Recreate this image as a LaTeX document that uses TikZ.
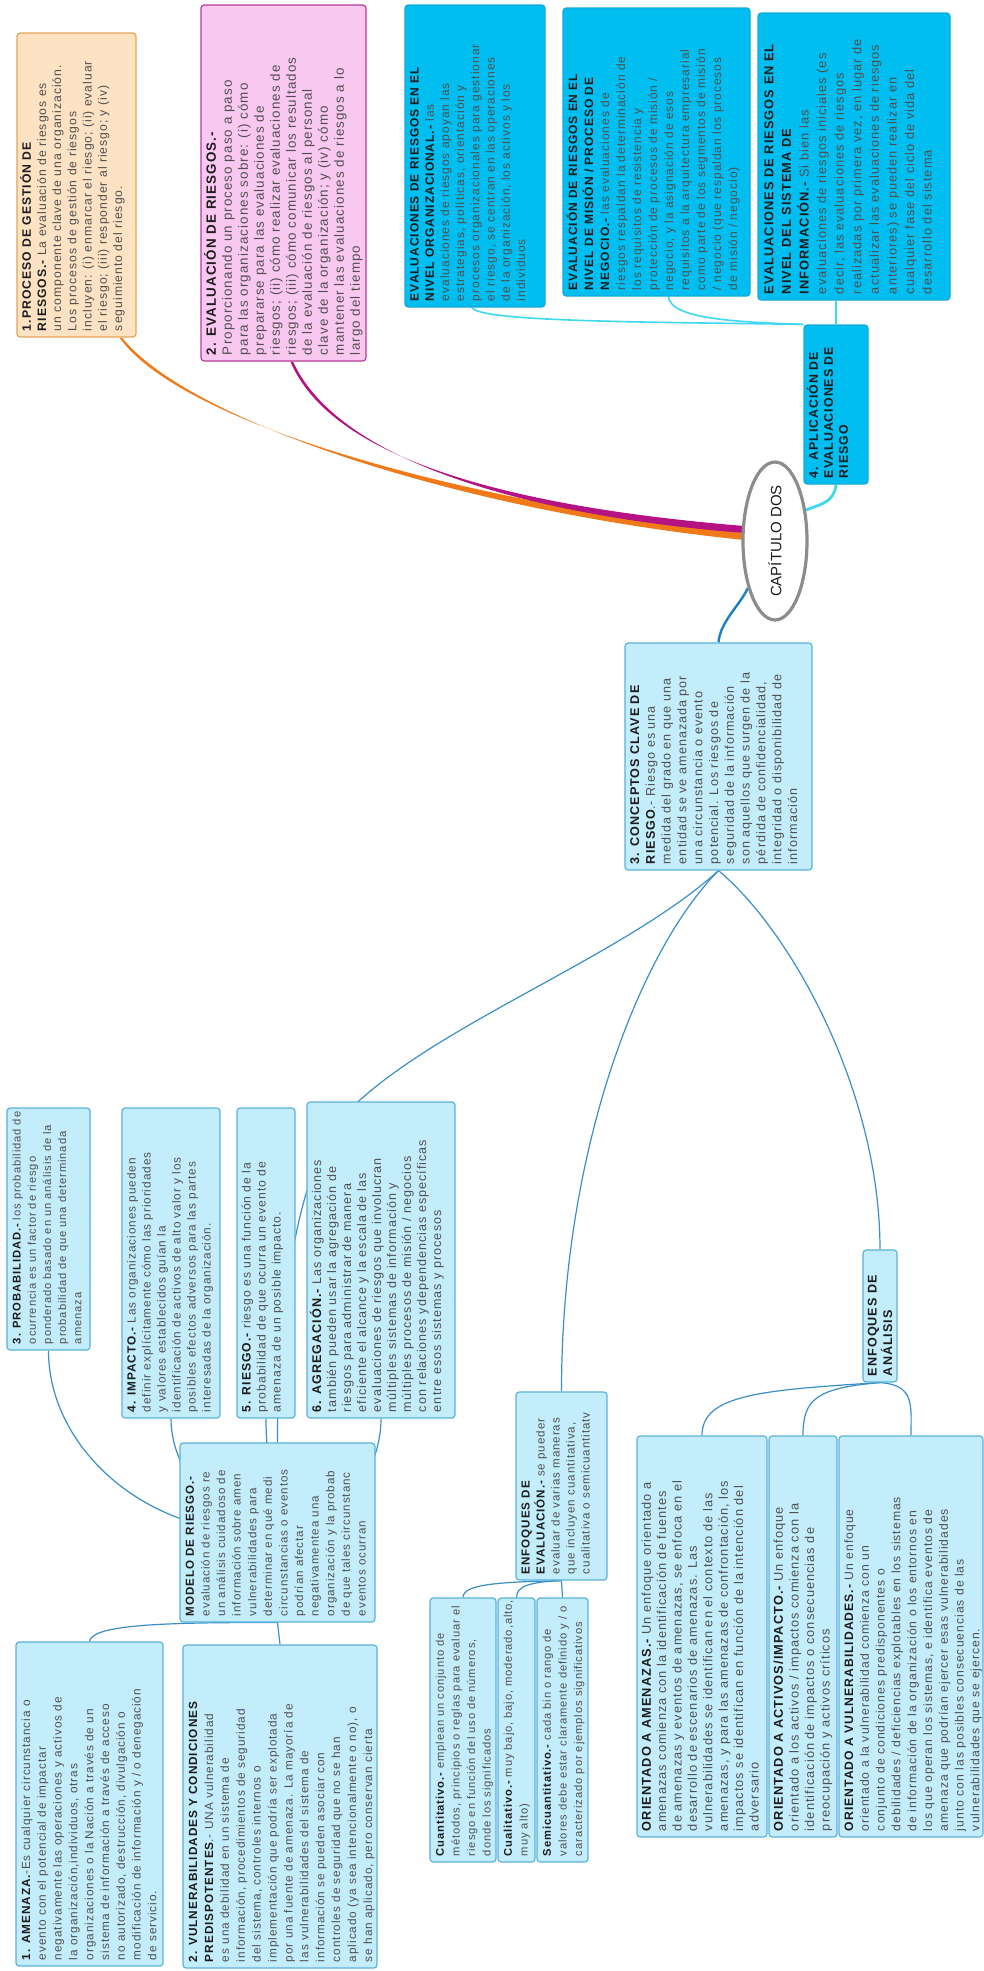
\documentclass[tikz,border=0pt]{standalone}
\usepackage{fontspec}
\setmainfont{Liberation Sans}[LetterSpace=8]
\usepackage{graphicx}
\usetikzlibrary{shapes.geometric,calc}

\definecolor{lbf}{HTML}{C4EDFB}
\definecolor{lbd}{HTML}{5BB2DB}
\definecolor{cyf}{HTML}{00BEF0}
\definecolor{cyd}{HTML}{14A9D8}
\definecolor{pkf}{HTML}{F9C8F1}
\definecolor{pkd}{HTML}{B63C99}
\definecolor{orf}{HTML}{FDE3C3}
\definecolor{ord}{HTML}{E3A55A}
\definecolor{txt}{HTML}{4F4F4F}
\definecolor{ttl}{HTML}{1C1C1C}
\definecolor{lnk}{HTML}{3A8FC7}
\definecolor{orb}{HTML}{F07A1A}
\definecolor{mgb}{HTML}{B51283}
\definecolor{cyl}{HTML}{3ED9EE}
\definecolor{blu}{HTML}{1A80C4}
\definecolor{capg}{HTML}{8C8C8C}

\pgfdeclarelayer{back}
\pgfsetlayers{back,main}

% rotated text block: #1 length (px), #2 thickness (px), #3 font size, #4 line pitch, #5 lines
\newcommand{\mmtext}[5]{\parbox[c][\dimexpr #2pt/2\relax][t]{\dimexpr #1pt/2\relax}{%
  \vspace*{1.5pt}\hspace*{3pt}\fontsize{#3pt}{#4pt}\selectfont\color{txt}%
  \begin{tabular}[t]{@{}l@{}}#5\end{tabular}}}
\newcommand{\tb}[1]{\textbf{\color{ttl}#1}}

\tikzset{
  mm/.style={inner sep=0pt, rounded corners=1.6pt, line width=0.6pt},
  lbox/.style={mm, fill=lbf, draw=lbd},
  cbox/.style={mm, fill=cyf, draw=cyd},
  pbox/.style={mm, fill=pkf, draw=pkd},
  obox/.style={mm, fill=orf, draw=ord},
  link/.style={draw=lnk, line width=0.6pt},
  clink/.style={draw=cyl, line width=0.8pt},
}

\begin{document}
\begin{tikzpicture}[x=0.5pt,y=-0.5pt]
\path[use as bounding box] (0,0) rectangle (984,1971);

% ---------- top branches ----------
\node[obox] (p1) at (76.5,185) {\rotatebox{90}{\mmtext{304}{119}{6.1}{7.6}{%
\tb{1.PROCESO DE GESTIÓN DE}\\
\tb{RIESGOS.-} La evaluación de riesgos es\\
un componente clave de una organización.\\
Los procesos de gestión de riesgos\\
incluyen: (i) enmarcar el riesgo; (ii) evaluar\\
el riesgo; (iii) responder al riesgo; y (iv)\\
seguimiento del riesgo.}}};

\node[pbox] (p2) at (283.5,183) {\rotatebox{90}{\mmtext{356}{165}{6.7}{8.0}{%
\tb{2. EVALUACIÓN DE RIESGOS.-}\\
Proporcionando un proceso paso a paso\\
para las organizaciones sobre: (i) cómo\\
prepararse para las evaluaciones de\\
riesgos; (ii) cómo realizar evaluaciones de\\
riesgos; (iii) cómo comunicar los resultados\\
de la evaluación de riesgos al personal\\
clave de la organización; y (iv) cómo\\
mantener las evaluaciones de riesgos a lo\\
largo del tiempo}}};

\node[cbox] (a) at (475,156) {\rotatebox{90}{\mmtext{302}{140}{6.0}{7.6}{%
\tb{EVALUACIONES DE RIESGOS EN EL}\\
\tb{NIVEL ORGANIZACIONAL.-} las\\
evaluaciones de riesgos apoyan las\\
estrategias, políticas, orientación y\\
procesos organizacionales para gestionar\\
el riesgo, se centran en las operaciones\\
de la organización, los activos y los\\
individuos}}};

\node[cbox] (b) at (656.5,152) {\rotatebox{90}{\mmtext{288}{187}{6.0}{8.0}{%
\tb{EVALUACIÓN DE RIESGOS EN EL}\\
\tb{NIVEL DE MISIÓN / PROCESO DE}\\
\tb{NEGOCIO.-} las evaluaciones de\\
riesgos respaldan la determinación de\\
los requisitos de resistencia y\\
protección de procesos de misión /\\
negocio, y la asignación de esos\\
requisitos a la arquitectura empresarial\\
como parte de los segmentos de misión\\
/ negocio (que respaldan los procesos\\
de misión / negocio)}}};

\node[cbox] (c) at (854,156.5) {\rotatebox{90}{\mmtext{287}{192}{6.4}{8.8}{%
\tb{EVALUACIONES DE RIESGOS EN EL}\\
\tb{NIVEL DEL SISTEMA DE}\\
\tb{INFORMACIÓN.-} Si bien las\\
evaluaciones de riesgos iniciales (es\\
decir, las evaluaciones de riesgos\\
realizadas por primera vez, en lugar de\\
actualizar las evaluaciones de riesgos\\
anteriores) se pueden realizar en\\
cualquier fase del ciclo de vida del\\
desarrollo del sistema}}};

\node[cbox] (d) at (836,404.5) {\rotatebox{90}{\mmtext{159}{64}{6.2}{7.5}{%
\tb{4. APLICACIÓN DE}\\
\tb{EVALUACIONES DE}\\
\tb{RIESGO}}}};

% ---------- central topic ----------
\node[ellipse, draw=capg, line width=1.6pt, fill=white, minimum width=32pt,
      minimum height=58pt, inner sep=0pt] (cap) at (775,541)
  {\rotatebox{90}{\addfontfeatures{LetterSpace=0}\fontsize{7.5pt}{9pt}\selectfont\color{ttl}CAPÍTULO DOS}};

% ---------- key concepts ----------
\node[lbox] (k) at (718.5,756.5) {\rotatebox{90}{\mmtext{227}{187}{6.3}{7.9}{%
\tb{3. CONCEPTOS CLAVE DE}\\
\tb{RIESGO}.- Riesgo es una\\
medida del grado en que una\\
entidad se ve amenazada por\\
una circunstancia o evento\\
potencial. Los riesgos de\\
seguridad de la información\\
son aquellos que surgen de la\\
pérdida de confidencialidad,\\
integridad o disponibilidad de\\
información}}};

\node[lbox] (r3) at (48.5,1229) {\rotatebox{90}{\mmtext{242}{83}{5.6}{7.6}{%
\tb{3. PROBABILIDAD.-} los probabilidad de\\
ocurrencia es un factor de riesgo\\
ponderado basado en un análisis de la\\
probabilidad de que una determinada\\
amenaza}}};

\node[lbox] (r4) at (171,1263) {\rotatebox{90}{\mmtext{310}{98}{5.9}{7.5}{%
\tb{4. IMPACTO.-} Las organizaciones pueden\\
definir explícitamente cómo las prioridades\\
y valores establecidos guían la\\
identificación de activos de alto valor y los\\
posibles efectos adversos para las partes\\
interesadas de la organización.}}};

\node[lbox] (r5) at (266,1263) {\rotatebox{90}{\mmtext{310}{58}{6.1}{7.5}{%
\tb{5. RIESGO.-} riesgo es una función de la\\
probabilidad de que ocurra un evento de\\
amenaza de un posible impacto.}}};

\node[lbox] (r6) at (381,1260) {\rotatebox{90}{\mmtext{316}{148}{6.3}{7.5}{%
\tb{6. AGREGACIÓN.-} Las organizaciones\\
también pueden usar la agregación de\\
riesgos para administrar de manera\\
eficiente el alcance y la escala de las\\
evaluaciones de riesgos que involucran\\
múltiples sistemas de información y\\
múltiples procesos de misión / negocios\\
con relaciones ydependencias específicas\\
entre esos sistemas y procesos}}};

\node[lbox] (m) at (277.5,1532.5) {\rotatebox{90}{\mmtext{179}{195}{5.8}{7.8}{%
\tb{MODELO DE RIESGO.-}\\
evaluación de riesgos re\\
un análisis cuidadoso de\\
información sobre amen\\
vulnerabilidades para\\
determinar en qué medi\\
circunstancias o eventos\\
podrían afectar\\
negativamentea una\\
organización y la probab\\
de que tales circunstanc\\
eventos ocurran}}};

\node[lbox] (t1) at (89.5,1804) {\rotatebox{90}{\mmtext{324}{147}{5.9}{7.9}{%
\tb{1. AMENAZA.}-Es cualquier circunstancia o\\
evento con el potencial de impactar\\
negativamente las operaciones y activos de\\
la organización,individuos, otras\\
organizaciones o la Nación a través de un\\
sistema de información a través de acceso\\
no autorizado, destrucción, divulgación o\\
modificación de información y / o denegación\\
de servicio.}}};

\node[lbox] (t2) at (280,1806.5) {\rotatebox{90}{\mmtext{323}{194}{5.9}{7.95}{%
\tb{2. VULNERABILIDADES Y CONDICIONES}\\
\tb{PREDISPOTENTES}.- UNA vulnerabilidad\\
es una debilidad en un sistema de\\
información, procedimientos de seguridad\\
del sistema, controles internos o\\
implementación que podría ser explotada\\
por una fuente de amenaza. La mayoría de\\
las vulnerabilidades del sistema de\\
información se pueden asociar con\\
controles de seguridad que no se han\\
aplicado (ya sea intencionalmente o no), o\\
se han aplicado, pero conservan cierta}}};

\node[lbox] (ee) at (561.5,1486) {\rotatebox{90}{\mmtext{188}{91}{5.8}{7.5}{%
\tb{ENFOQUES DE}\\
\tb{EVALUACIÓN.-} se pueder\\
evaluar de varias maneras\\
que incluyen cuantitativa,\\
cualitativa o semicuantitatv}}};

\node[lbox] (q1) at (463,1730) {\rotatebox{90}{\mmtext{264}{66}{5.6}{7.8}{%
\tb{Cuantitativo.-} emplean un conjunto de\\
métodos, principios o reglas para evaluar el\\
riesgo en función del uso de números,\\
donde los significados}}};

\node[lbox] (q2) at (516.5,1730) {\rotatebox{90}{\mmtext{264}{37}{5.6}{7.8}{%
\tb{Cualitativo.-} muy bajo, bajo, moderado,alto,\\
muy alto)}}};

\node[lbox] (q3) at (562.5,1730) {\rotatebox{90}{\mmtext{264}{51}{5.6}{7.8}{%
\tb{Semicuantitativo.-} cada bin o rango de\\
valores debe estar claramente definido y / o\\
caracterizado por ejemplos significativos}}};

\node[lbox] (ea) at (880,1316) {\rotatebox{90}{\mmtext{132}{34}{6.3}{7.5}{%
\tb{ENFOQUES DE}\\
\tb{ANÁLISIS}}}};

\node[lbox] (oa) at (702,1636.5) {\rotatebox{90}{\mmtext{401}{130}{6.4}{7.7}{%
\tb{ORIENTADO A AMENAZAS.-} Un enfoque orientado a\\
amenazas comienza con la identificación de fuentes\\
de amenazas y eventos de amenazas, se enfoca en el\\
desarrollo de escenarios de amenazas. Las\\
vulnerabilidades se identifican en el contexto de las\\
amenazas, y para las amenazas de confrontación, los\\
impactos se identifican en función de la intención del\\
adversario}}};

\node[lbox] (oc) at (803,1636.5) {\rotatebox{90}{\mmtext{401}{68}{6.4}{7.8}{%
\tb{ORIENTADO A ACTIVOS/IMPACTO.-} Un enfoque\\
orientado a los activos / impactos comienza con la\\
identificación de impactos o consecuencias de\\
preocupación y activos críticos}}};

\node[lbox] (ov) at (911,1636.5) {\rotatebox{90}{\mmtext{401}{144}{6.1}{7.9}{%
\tb{ORIENTADO A VULNERABILIDADES.-} Un enfoque\\
orientado a la vulnerabilidad comienza con un\\
conjunto de condiciones predisponentes o\\
debilidades / deficiencias explotables en los sistemas\\
de información de la organización o los entornos en\\
los que operan los sistemas, e identifica eventos de\\
amenaza que podrían ejercer esas vulnerabilidades\\
junto con las posibles consecuencias de las\\
vulnerabilidades que se ejercen.}}};

% ---------- connectors (behind the boxes) ----------
\begin{pgfonlayer}{back}
\fill[white] (0,0) rectangle (984,1971);

\coordinate (os) at ($(p1.south)+(44,0)$);
\coordinate (ms) at ($(p2.south)+(8,0)$);
% tapered main branches
\fill[orb] ($(os)+(-1,0)$) .. controls (180,422) and (450,500) .. ($(cap.west)+(3,-8)$)
  -- ($(cap.west)+(3,-1)$) .. controls (450,510) and (186,418) .. ($(os)+(1.5,0)$) -- cycle;
\fill[mgb] ($(ms)+(-1,0)$) .. controls (336,470) and (550,510) .. ($(cap.west)+(3,-15)$)
  -- ($(cap.west)+(3,-8)$) .. controls (550,518) and (342,468) .. ($(ms)+(1.5,0)$) -- cycle;

\draw[cyl, line width=1.4pt] (cap.45) .. controls ($(cap.45)+(15,-6)$) and ($(d.south)+(-2,18)$) .. (d.south);
\draw[clink] (d.north west) .. controls (650,322) and (480,322) .. ($(a.south)+(-3,0)$);
\draw[clink] (d.north west) .. controls (730,322) and (670,318) .. ($(b.south)+(12,0)$);
\draw[clink] (d.north) -- (d.north |- c.south);

\draw[blu, line width=1.2pt] (cap.240) .. controls (740,605) and (720,622) .. (k.north);

\draw[link] (k.south) .. controls (620,960) and (420,1030) .. (340,1120)
  .. controls (300,1170) and (277,1300) .. (m.north);
\draw[link] (k.south) .. controls (640,950) and (561.5,1150) .. (ee.north);
\draw[link] (k.south) .. controls (790,930) and (880,1090) .. (ea.north);

\draw[link] (r3.south) .. controls (48.5,1450) and (150,1540) .. (m.center);
\draw[link] (r4.south) .. controls (171,1480) and (230,1532) .. (m.center);
\draw[link] (r5.south) .. controls (266,1470) and (277,1500) .. (m.center);
\draw[link] (r6.south) .. controls (381,1480) and (330,1532) .. (m.center);
\draw[link] (m.south) .. controls (150,1622) and (92,1626) .. (t1.north);
\draw[link] (m.south) -- (t2.north);

\draw[link] (ee.south) .. controls (500,1582) and (463,1584) .. (q1.north);
\draw[link] (ee.south) .. controls (530,1582) and (516.5,1586) .. (q2.north);
\draw[link] (ee.south) -- (q3.north);

\draw[link] (ea.south) .. controls (760,1390) and (702,1395) .. (oa.north);
\draw[link] (ea.south) .. controls (815,1388) and (803,1400) .. (oc.north);
\draw[link] (ea.south) .. controls (915,1385) and (911,1405) .. (ov.north);
\end{pgfonlayer}
\end{tikzpicture}
\end{document}
